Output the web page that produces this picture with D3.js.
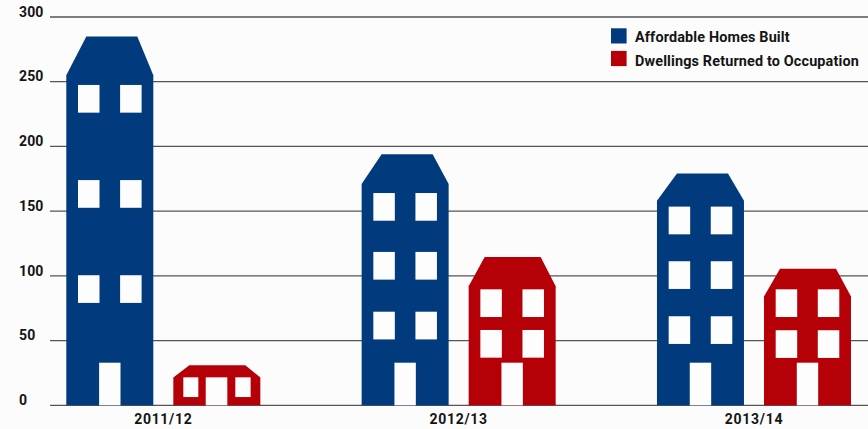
<!DOCTYPE html>
<html>
<head>
<meta charset="utf-8">
<script src="https://cdn.jsdelivr.net/npm/d3@7"></script>
<style>
  html, body { margin: 0; padding: 0; background: #fcfcfc; }
  svg { display: block; }
  text { font-family: Roboto, sans-serif; font-weight: 700; fill: #141414; }
</style>
</head>
<body>
<svg id="chart" width="868" height="429"></svg>
<script>
// Housing delivery by year, one building per series.
const years = ["2011/12", "2012/13", "2013/14"];
const seriesNames = ["Affordable Homes Built", "Dwellings Returned to Occupation"];
const seriesColors = ["#013b7e", "#b50008"];
const yTicks = [0, 50, 100, 150, 200, 250, 300];

const affordableBuilt = [285, 194, 179];
const returnedToOccupation = [31, 114.5, 105.5];

// Height of the eaves, where the roof starts, on the same value axis.
const affordableEaves = [255, 171, 158];
const returnedEaves = [21.5, 92, 84];

// Top edge of each row of windows, on the value axis.
const affordableWindowRows = [
  [247.5, 174, 100.5],
  [164, 118.5, 72.3],
  [153.5, 111.3, 68.8]
];
const returnedWindowRows = [
  [21.6],
  [89.6, 58.2],
  [89.6, 58]
];

const svg = d3.select("#chart");
const y = d3.scaleLinear().domain([0, 300]).range([405.3, 17]);
const x0 = d3.scaleBand().domain(years).range([66.3, 851]).paddingInner(0.343);
const x1 = d3.scaleBand().domain(seriesNames).range([0, x0.bandwidth()]).paddingInner(0.187);

// Horizontal rules and left-aligned value labels
const yAxis = d3.axisLeft(y).tickValues(yTicks).tickSize(818).tickPadding(0).offset(0);
const yG = svg.append("g").attr("transform", "translate(868,0)").call(yAxis);
yG.select(".domain").remove();
yG.selectAll("line").attr("stroke", "#555").attr("stroke-width", 1.3);
yG.selectAll("text")
  .attr("text-anchor", "start")
  .attr("x", -849)
  .attr("dy", 0)
  .attr("y", -0.3)
  .style("font-size", "14px")
  .style("letter-spacing", "0.1px");

// Year labels under each pair of buildings
const xAxis = d3.axisBottom(x0).tickSize(0).tickPadding(0).offset(0);
const xG = svg.append("g").attr("transform", "translate(0,424)").call(xAxis);
xG.select(".domain").remove();
xG.selectAll("text")
  .attr("y", 0)
  .attr("dy", 0)
  .style("font-size", "14px")
  .style("letter-spacing", "0.7px");

// Roof insets differ slightly between the two building types
const roofInset = [[20, 16], [16, 15]];
const windowWidth = 21.5;
const windowHeight = 27.7;
const doorWidth = 21.4;
const doorHeight = 42.6;
const paper = "#fdfdfd";

function drawBuilding(g, value, eave, rows, color, insets) {
  const w = x1.bandwidth();
  const base = y(0);
  const outline = [
    [0, base], [0, y(eave)], [insets[0], y(value)],
    [w - insets[1], y(value)], [w, y(eave)], [w, base]
  ];
  g.append("path").attr("d", d3.line()(outline) + "Z").attr("fill", color);

  const openings = [];
  if (rows.length === 1) {
    // Single-storey form: two small windows either side of a wide door
    const h = 19.7;
    openings.push({ x: 10, y: y(rows[0]), w: 15, h });
    openings.push({ x: 62, y: y(rows[0]), w: 15.3, h });
    openings.push({ x: 32.4, y: y(rows[0]), w: 21.6, h: base - y(rows[0]) });
  } else {
    rows.forEach(top => {
      openings.push({ x: 11.7, y: y(top), w: windowWidth, h: windowHeight });
      openings.push({ x: 53.8, y: y(top), w: windowWidth, h: windowHeight });
    });
    openings.push({ x: 32.8, y: base - doorHeight, w: doorWidth, h: doorHeight });
  }
  g.selectAll("rect").data(openings).join("rect")
    .attr("x", d => d.x).attr("y", d => d.y)
    .attr("width", d => d.w).attr("height", d => d.h)
    .attr("fill", paper);
}

const yearGroups = svg.append("g").selectAll("g").data(years).join("g")
  .attr("transform", d => `translate(${x0(d)},0)`);

yearGroups.each(function (yr, i) {
  const group = d3.select(this);
  drawBuilding(group.append("g").attr("transform", `translate(${x1(seriesNames[0])},0)`),
    affordableBuilt[i], affordableEaves[i], affordableWindowRows[i], seriesColors[0], roofInset[0]);
  drawBuilding(group.append("g").attr("transform", `translate(${x1(seriesNames[1])},0)`),
    returnedToOccupation[i], returnedEaves[i], returnedWindowRows[i], seriesColors[1], roofInset[1]);
});

// Legend, top right
const legend = svg.append("g").attr("transform", "translate(611,28.3)");
const legendRows = legend.selectAll("g").data(seriesNames).join("g")
  .attr("transform", (d, i) => `translate(0,${i * 22.6})`);
legendRows.append("rect")
  .attr("width", 15.6).attr("height", 15.2)
  .attr("fill", (d, i) => seriesColors[i]);
legendRows.append("text")
  .attr("x", 24).attr("y", (d, i) => 14 + i * 0.8)
  .style("font-size", "14.4px")
  .style("letter-spacing", "0.15px")
  .text(d => d);
</script>
</body>
</html>
